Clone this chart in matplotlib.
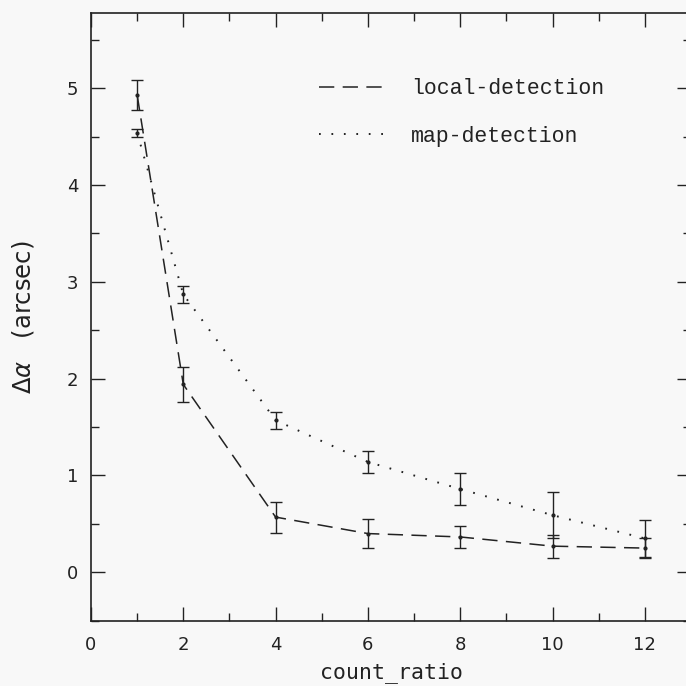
import matplotlib
matplotlib.use("Agg")
import matplotlib.pyplot as plt
from matplotlib.ticker import MultipleLocator
from matplotlib.lines import Line2D

# Data
count_ratio = [1, 2, 4, 6, 8, 10, 12]
local_det = [4.93, 1.94, 0.57, 0.40, 0.365, 0.27, 0.25]
local_err = [0.15, 0.18, 0.16, 0.15, 0.115, 0.12, 0.10]
map_det = [4.54, 2.87, 1.57, 1.14, 0.86, 0.59, 0.35]
map_err = [0.04, 0.09, 0.09, 0.115, 0.17, 0.24, 0.19]
series_labels = ['local-detection', 'map-detection']

ink = "#222222"
bg = "#f8f8f8"
dash_local = (10, 5.5)
dot_map = (0, (0.9, 5.5))

fig = plt.figure(figsize=(6.86, 6.86), dpi=100, facecolor=bg)
ax = fig.add_axes([91/686, (686-620.7)/686, 600/686, 608/686], facecolor=bg)

ax.errorbar(count_ratio, local_det, yerr=local_err, color=ink, lw=1.1,
            dashes=dash_local, elinewidth=1.0, capsize=4.3, capthick=1.0,
            marker='o', ms=2)
ax.errorbar(count_ratio, map_det, yerr=map_err, color=ink, lw=1.4,
            linestyle=dot_map, elinewidth=1.0, capsize=4.3, capthick=1.0,
            marker='o', ms=2)

ax.set_xlim(0, 13)
ax.set_ylim(-0.5, 5.78)
ax.xaxis.set_major_locator(MultipleLocator(2))
ax.xaxis.set_minor_locator(MultipleLocator(1))
ax.yaxis.set_major_locator(MultipleLocator(1))
ax.yaxis.set_minor_locator(MultipleLocator(0.5))
ax.tick_params(which='both', direction='in', top=True, right=True, color=ink, width=1.0)
ax.tick_params(which='major', length=10)
ax.tick_params(which='minor', length=6)
ax.tick_params(axis='x', which='major', pad=11, labelsize=13, labelcolor=ink)
ax.tick_params(axis='y', which='major', pad=9, labelsize=13, labelcolor=ink)
for s in ax.spines.values():
    s.set_color(ink)
    s.set_linewidth(1.2)

ax.set_xlabel('count_ratio', fontsize=15.5, family='DejaVu Sans Mono', color=ink, labelpad=6)
ax.set_ylabel(r'$\Delta\alpha$   (arcsec)', fontsize=17.5, color=ink, labelpad=22)

handles = [Line2D([], [], color=ink, lw=1.1, dashes=dash_local),
           Line2D([], [], color=ink, lw=1.4, linestyle=dot_map)]
leg = ax.legend(handles, series_labels, loc='upper left', bbox_to_anchor=(0.347, 0.924),
                frameon=False, handlelength=3.1, handletextpad=1.2,
                labelspacing=1.22, prop={'family': 'Liberation Mono', 'size': 15.5})
for t in leg.get_texts():
    t.set_color(ink)

fig.savefig('out.png', dpi=100, facecolor=bg)
